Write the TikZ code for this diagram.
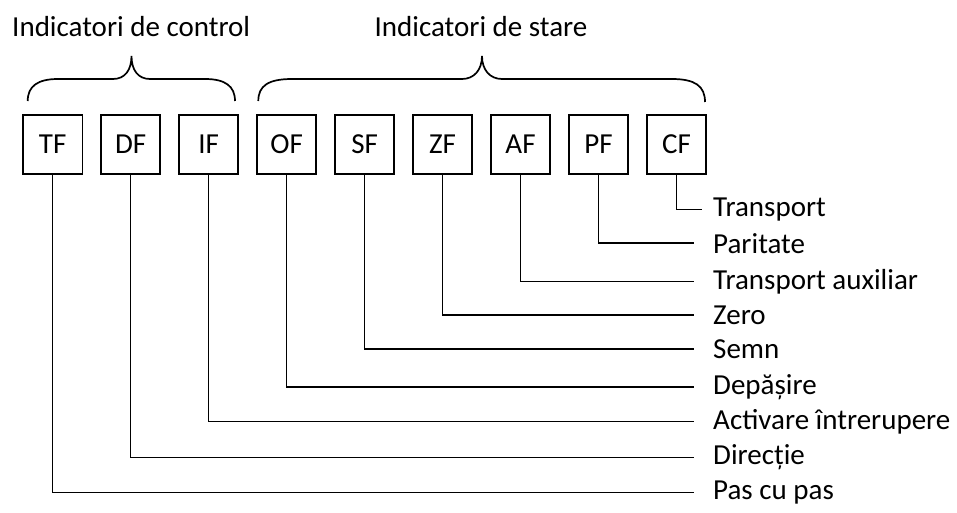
\documentclass[tikz,border=0pt]{standalone}
\usepackage{fontspec}
\setmainfont{Carlito}
\begin{document}
\begin{tikzpicture}[x=1pt,y=-1pt,
  txt/.style={font=\fontsize{29}{34}\selectfont},
  flagbox/.style={draw,line width=1.9pt,minimum width=59.5pt,minimum height=59pt,inner sep=0pt,txt},
  lbl/.style={txt,anchor=mid west,inner sep=0pt},
  wire/.style={line width=1.5pt},
  bracepath/.style={line width=1.7pt},
  title/.style={txt,anchor=base,inner sep=0pt}]
\useasboundingbox (0,0) rectangle (957,513);

% group headings
\node[title] (hc) at (131.2,36.7) {Indicatori de control};
\node[title] (hs) at (481,36.7) {Indicatori de stare};

% braces
\draw[bracepath] (27.7,101) .. controls (27.7,86) and (38,79) .. (58,79)
  -- (113,79) .. controls (125,79) and (131.5,70) .. (131.5,56)
  .. controls (131.5,70) and (138,79) .. (150,79)
  -- (205,79) .. controls (225,79) and (235,86) .. (235,101);
\draw[bracepath] (258.3,101) .. controls (258.3,86) and (268,79) .. (292,79)
  -- (462,79) .. controls (474,79) and (482,70) .. (482,56)
  .. controls (482,70) and (490,79) .. (502,79)
  -- (672,79) .. controls (695,79) and (705,86) .. (705,102);

% flag boxes
\foreach \n [count=\i from 0] in {TF,DF,IF,OF,SF,ZF,AF,PF,CF}
  \node[flagbox] (\n) at (52.7+77.97*\i,144.5) {\n};

% flag names
\node[lbl] (lCF) at (713,214.3) {Transport};
\node[lbl] (lPF) at (713,250.7) {Paritate};
\node[lbl] (lAF) at (713,286.7) {Transport auxiliar};
\node[lbl] (lZF) at (713,321.7) {Zero};
\node[lbl] (lSF) at (713,355.7) {Semn};
\node[lbl] (lOF) at (713,391.7) {Depășire};
\node[lbl] (lIF) at (713,426.7) {Activare întrerupere};
\node[lbl] (lDF) at (713,462.3) {Direcție};
\node[lbl] (lTF) at (713,497.3) {Pas cu pas};

% connectors
\coordinate (eCF) at ([xshift=-11pt]lCF.west);
\draw[wire] (CF.south) |- (eCF);
\foreach \n in {PF,AF,ZF,SF,OF,IF,DF,TF}{
  \coordinate (e\n) at ([xshift=-19.5pt]l\n.west);
  \draw[wire] (\n.south) |- (e\n);
}
\end{tikzpicture}
\end{document}
